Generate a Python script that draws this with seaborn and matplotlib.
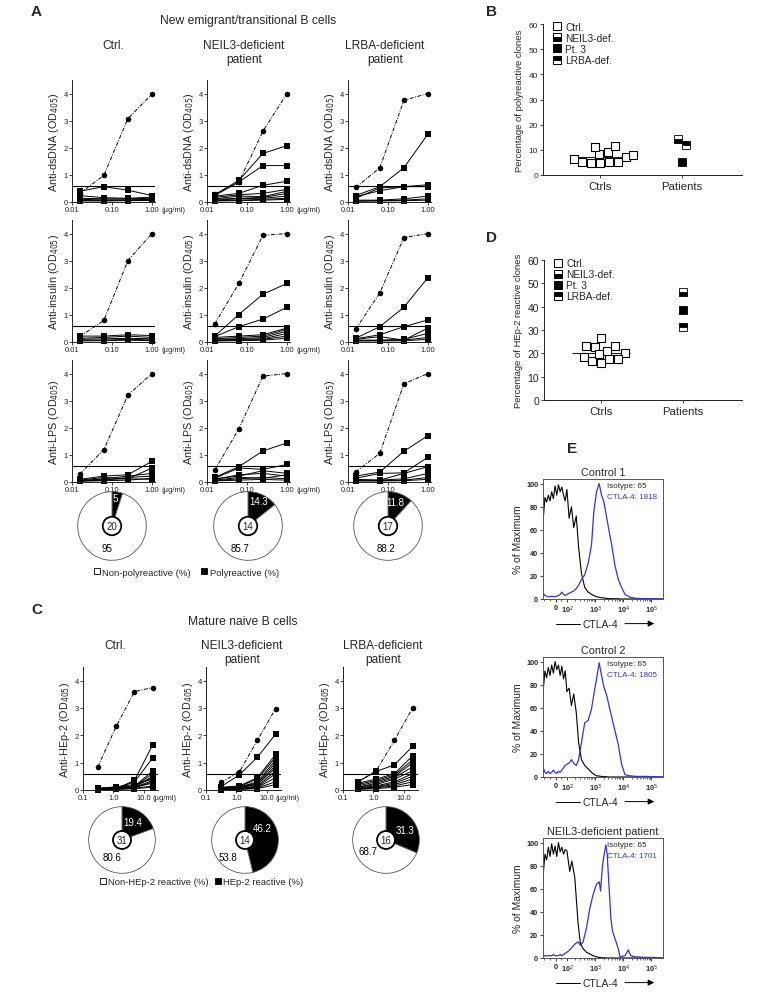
import numpy as np
import pandas as pd
import matplotlib
matplotlib.use("Agg")
import matplotlib.pyplot as plt
import seaborn as sns
from matplotlib.lines import Line2D
from matplotlib.patches import Circle
from matplotlib.ticker import NullLocator, FixedLocator

sns.set_theme(style="ticks")
plt.rcParams["font.family"] = ["Liberation Sans", "DejaVu Sans"]
plt.rcParams["axes.linewidth"] = 0.7
plt.rcParams["axes.edgecolor"] = "#222222"

# ---------------- data ----------------
groups = ["Ctrl.", "NEIL3-deficient\npatient", "LRBA-deficient\npatient"]
conc_a = [0.0156, 0.0625, 0.25, 1.0]      # ug/ml
conc_c = [0.31, 1.25, 5.0, 20.0]          # ug/ml
cutoff_a = 0.56
cutoff_c = 0.58

dsdna_pos = [[0.3, 0.97, 3.07, 3.98], [0.28, 0.72, 2.6, 4.0], [0.52, 1.25, 3.75, 4.0]]
dsdna_clones = [
    [[0.38, 0.55, 0.42, 0.22], [0.22, 0.14, 0.12, 0.16], [0.12, 0.1, 0.1, 0.12],
     [0.08, 0.06, 0.06, 0.08], [0.04, 0.04, 0.05, 0.06], [0.02, 0.02, 0.03, 0.04]],
    [[0.25, 0.78, 1.78, 2.07], [0.22, 0.72, 1.33, 1.33], [0.2, 0.3, 0.6, 0.75],
     [0.15, 0.25, 0.3, 0.45], [0.1, 0.2, 0.18, 0.38], [0.08, 0.12, 0.15, 0.3],
     [0.05, 0.1, 0.12, 0.2], [0.03, 0.05, 0.08, 0.12], [0.02, 0.03, 0.05, 0.08]],
    [[0.22, 0.55, 1.25, 2.5], [0.18, 0.4, 0.55, 0.62], [0.12, 0.5, 0.55, 0.55],
     [0.05, 0.05, 0.1, 0.2], [0.02, 0.03, 0.05, 0.1], [0.01, 0.02, 0.03, 0.05]],
]
insulin_pos = [[0.18, 0.78, 3.0, 4.0], [0.65, 2.15, 3.93, 4.0], [0.46, 1.8, 3.85, 4.0]]
insulin_clones = [
    [[0.2, 0.2, 0.25, 0.22], [0.12, 0.15, 0.2, 0.15], [0.08, 0.1, 0.12, 0.1],
     [0.05, 0.05, 0.08, 0.06], [0.02, 0.03, 0.05, 0.03]],
    [[0.2, 1.0, 1.75, 2.15], [0.18, 0.55, 0.83, 1.27], [0.15, 0.2, 0.25, 0.5],
     [0.1, 0.15, 0.2, 0.45], [0.08, 0.1, 0.15, 0.38], [0.05, 0.08, 0.1, 0.3],
     [0.03, 0.05, 0.08, 0.2], [0.02, 0.03, 0.05, 0.12]],
    [[0.12, 0.55, 1.27, 2.37], [0.1, 0.25, 0.55, 0.8], [0.08, 0.18, 0.05, 0.5],
     [0.05, 0.05, 0.08, 0.3], [0.03, 0.04, 0.05, 0.15], [0.02, 0.02, 0.03, 0.08]],
]
lps_pos = [[0.27, 1.18, 3.2, 4.0], [0.42, 1.95, 3.9, 4.0], [0.35, 1.05, 3.62, 4.0]]
lps_clones = [
    [[0.08, 0.2, 0.25, 0.75], [0.05, 0.15, 0.1, 0.5], [0.03, 0.1, 0.2, 0.3],
     [0.02, 0.05, 0.15, 0.2], [0.01, 0.03, 0.05, 0.12], [0.02, 0.08, 0.1, 0.08]],
    [[0.15, 0.55, 1.13, 1.43], [0.12, 0.5, 0.45, 0.63], [0.1, 0.2, 0.4, 0.3],
     [0.08, 0.25, 0.3, 0.2], [0.05, 0.15, 0.12, 0.25], [0.03, 0.1, 0.15, 0.1],
     [0.02, 0.05, 0.08, 0.05]],
    [[0.2, 0.35, 1.12, 1.7], [0.12, 0.3, 0.32, 0.9], [0.08, 0.05, 0.3, 0.55],
     [0.05, 0.05, 0.1, 0.3], [0.03, 0.03, 0.05, 0.15], [0.02, 0.02, 0.03, 0.08]],
]
hep2_pos = [[0.85, 2.33, 3.6, 3.75], [0.28, 0.65, 1.82, 2.98], [0.3, 0.7, 1.82, 3.0]]
hep2_clones = [
    [[0.08, 0.05, 0.35, 1.65], [0.07, 0.06, 0.3, 1.17], [0.06, 0.05, 0.13, 0.7],
     [0.05, 0.1, 0.12, 0.6], [0.04, 0.08, 0.1, 0.5], [0.03, 0.1, 0.15, 0.45],
     [0.05, 0.12, 0.2, 0.4], [0.02, 0.05, 0.1, 0.35], [0.03, 0.07, 0.08, 0.3],
     [0.02, 0.03, 0.1, 0.25], [0.01, 0.02, 0.06, 0.15], [0.01, 0.03, 0.05, 0.1]],
    [[0.12, 0.55, 1.2, 2.05], [0.1, 0.15, 0.45, 1.3], [0.08, 0.12, 0.4, 1.2],
     [0.06, 0.1, 0.3, 1.1], [0.05, 0.12, 0.25, 1.0], [0.04, 0.08, 0.2, 0.9],
     [0.03, 0.1, 0.22, 0.8], [0.02, 0.05, 0.15, 0.7], [0.03, 0.06, 0.12, 0.6],
     [0.02, 0.04, 0.1, 0.45], [0.01, 0.03, 0.08, 0.3], [0.01, 0.02, 0.05, 0.2]],
    [[0.3, 0.68, 0.92, 1.6], [0.25, 0.4, 0.6, 1.25], [0.2, 0.35, 0.55, 1.1],
     [0.15, 0.3, 0.5, 1.0], [0.1, 0.25, 0.45, 0.85], [0.1, 0.2, 0.4, 0.7],
     [0.08, 0.15, 0.3, 0.6], [0.05, 0.12, 0.25, 0.5], [0.04, 0.1, 0.2, 0.4],
     [0.03, 0.08, 0.15, 0.3], [0.02, 0.05, 0.1, 0.2]],
]

poly_pct = [5, 14.3, 11.8]
nonpoly_pct = [95, 85.7, 88.2]
n_clones_a = [20, 14, 17]
hep2_pct = [19.4, 46.2, 31.3]
nonhep2_pct = [80.6, 53.8, 68.7]
n_clones_c = [31, 14, 16]

patient_names = ["NEIL3-def.", "Pt. 3", "LRBA-def."]
poly_ctrls = [8.3, 7.1, 5.1, 5.1, 11.2, 9.1, 4.9, 11.4, 4.9, 5.1, 6.2, 7.8]
poly_patients = [14.3, 5.0, 11.8]
hep2_ctrls = [18.4, 23.3, 17.4, 21.1, 16.0, 20.1, 26.4, 16.7, 22.9, 17.7, 23.1, 19.6]
hep2_patients = [46.2, 38.5, 31.3]

# flow histograms (% of max) on CTLA-4 channel values
ctrl_x = [-110, -95, -80, -65, -50, -35, -20, -5, 10, 25, 40, 55, 70, 85, 100,
          120, 145, 175, 215, 260, 330, 430, 570, 750, 900, 1130, 1400, 1700,
          2060, 2570, 3200, 3900, 5100, 6700, 8800, 11600, 17500, 30000, 60000,
          120000, 250000]
ctrl1_iso = [69, 88, 84, 90, 85, 93, 87, 98, 90, 99, 93, 97, 90, 85, 95, 70, 80,
             62, 72, 45, 22, 10, 6, 4, 3, 2, 1.5, 1, 1, 0.5, 0.3, 0.3, 0.2, 0.2,
             0, 0, 0, 0, 0, 0, 0]
ctrl1_ctla4 = [5, 3, 2.5, 2, 2, 2.5, 2, 2, 2.5, 3, 4, 6, 4, 3, 4, 5, 6, 7, 9, 12,
               17, 21, 31, 47, 75, 93, 100, 90, 84, 71, 58, 47, 29, 17, 10, 4,
               1.5, 0.5, 0.3, 0.2, 0]
ctrl2_iso = [75, 92, 86, 95, 88, 97, 90, 100, 93, 97, 88, 96, 85, 92, 74, 77, 62,
             72, 56, 30, 15, 10, 7, 4, 2.5, 1, 0.8, 0.5, 0.3, 0.2, 0, 0, 0, 0, 0,
             0, 0, 0, 0, 0, 0]
ctrl2_ctla4 = [8, 4, 3, 5, 3, 4, 6, 4, 3, 5, 4, 6, 8, 10, 11, 12, 15, 12, 10, 15,
               30, 47, 49, 59, 71, 85, 99, 88, 78, 71, 61, 52, 40, 28, 11, 2, 1,
               0.5, 0.5, 0.3, 0]
pt_x = [-110, -95, -80, -65, -50, -35, -20, -5, 10, 25, 40, 55, 70, 85, 100,
        126, 150, 190, 250, 300, 377, 495, 652, 851, 1130, 1410, 1570, 1850,
        2120, 2430, 2700, 3200, 3660, 4210, 5090, 6700, 7690, 11600, 15200,
        18600, 26300, 60000, 120000, 250000]
pt_iso = [72, 90, 85, 96, 88, 99, 90, 97, 88, 100, 92, 96, 90, 94, 93, 75, 84, 70,
          30, 13, 8, 5, 3.5, 2, 1, 0.5, 0.3, 0.2, 0.2, 0.1, 0, 0, 0, 0, 0, 0, 0,
          0, 0, 0, 0, 0, 0, 0]
pt_ctla4 = [1, 2, 2, 2, 2, 2, 3, 2, 2, 2, 3, 2, 3, 4, 5, 7, 9, 12, 14, 11, 14, 26,
            43, 55, 64, 66, 58, 81, 90, 98, 90, 58, 34, 23, 17, 8, 1, 2, 7, 2, 1,
            0.5, 0.5, 0]

# ---------------- figure ----------------
W, H = 764, 1004
fig = plt.figure(figsize=(W / 100, H / 100), dpi=100)


def px_axes(l, t, w, h):
    return fig.add_axes([l / W, 1 - (t + h) / H, w / W, h / H])


def ftext(x, y, s, **kw):
    fig.text(x / W, 1 - y / H, s, **kw)


def dilution(ax, conc, pos, clones, cutoff, xlim, xticks, xlabels, unit_x, ylabel):
    for c in clones:
        sns.lineplot(x=conc, y=c, ax=ax, color="black", lw=0.7, marker="s",
                     markersize=4.2, markeredgewidth=0, clip_on=False)
    sns.lineplot(x=conc, y=pos, ax=ax, color="black", lw=0.7,
                 linestyle=(0, (4, 1.5, 1, 1.5)), marker="o", markersize=4,
                 markeredgewidth=0, clip_on=False)
    ax.axhline(cutoff, color="black", lw=0.8)
    ax.set_xscale("log")
    ax.set_xlim(*xlim)
    ax.set_ylim(0, 4.5)
    ax.set_xticks(xticks)
    ax.set_xticklabels(xlabels)
    ax.xaxis.set_minor_locator(NullLocator())
    ax.set_yticks([0, 1, 2, 3, 4])
    ax.tick_params(labelsize=5.5, length=2, width=0.6, pad=1, colors="#222222")
    ax.set_xlabel("")
    ax.set_ylabel(ylabel, fontsize=7.8, labelpad=2)
    ax.text(unit_x, -0.035, "(µg/ml)", transform=ax.get_xaxis_transform(),
            ha="left", va="top", fontsize=5.5)
    sns.despine(ax=ax)


def donut(ax, pos_pct, neg_pct, n, pos_xy, neg_xy):
    ax.pie([pos_pct, neg_pct], colors=["black", "white"], startangle=90,
           counterclock=False, radius=1,
           wedgeprops=dict(edgecolor="#555555", linewidth=0.6))
    ax.add_patch(Circle((0, 0), 0.27, facecolor="white", edgecolor="black",
                        lw=1.3, zorder=3))
    ax.text(0, 0, str(n), ha="center", va="center", fontsize=7, zorder=4)
    ax.text(pos_xy[0], pos_xy[1], f"{pos_pct:g}", color="white", ha="center",
            va="center", fontsize=7)
    ax.text(neg_xy[0], neg_xy[1], f"{neg_pct:g}", color="black", ha="center",
            va="center", fontsize=7)
    ax.set_xlim(-1.02, 1.02)
    ax.set_ylim(-1.02, 1.02)


# ---- panel A ----
ftext(36, 12, "A", fontsize=11, fontweight="bold", ha="center", va="center")
ftext(248, 21, "New emigrant/transitional B cells", fontsize=8.7, ha="center", va="center")
a_left = [72, 207, 348]
a_top = [81, 221, 361]
a_title_x = [113, 244, 385]
a_assays = [(dsdna_pos, dsdna_clones, "Anti-dsDNA (OD$_{405}$)"),
            (insulin_pos, insulin_clones, "Anti-insulin (OD$_{405}$)"),
            (lps_pos, lps_clones, "Anti-LPS (OD$_{405}$)")]
for j in range(3):
    ftext(a_title_x[j], 40, groups[j], fontsize=8.6, ha="center", va="top",
          linespacing=1.2)
    for i, (pos, clones, lab) in enumerate(a_assays):
        ax = px_axes(a_left[j], a_top[i], 83, 121.5)
        dilution(ax, conc_a, pos[j], clones[j], cutoff_a, (0.01, 1.19),
                 [0.01, 0.1, 1.0], ["0.01", "0.10", "1.00"], 1.7, lab)
        if j == 2:
            ax.texts[-1].set_visible(False)

a_pie_x = [112, 248, 388]
a_pos_xy = [(0.1, 0.82), (0.3, 0.72), (0.22, 0.7)]
a_neg_xy = [(-0.14, -0.65), (-0.23, -0.65), (-0.05, -0.65)]
for j in range(3):
    ax = px_axes(a_pie_x[j] - 35, 527 - 35, 70, 70)
    donut(ax, poly_pct[j], nonpoly_pct[j], n_clones_a[j], a_pos_xy[j], a_neg_xy[j])

sq_white = Line2D([], [], marker="s", ls="", mfc="white", mec="black", ms=5, mew=0.6)
sq_black = Line2D([], [], marker="s", ls="", mfc="black", mec="black", ms=5, mew=0.6)
fig.legend([sq_white, sq_black], ["Non-polyreactive (%)", "Polyreactive (%)"],
           loc="center", bbox_to_anchor=(186 / W, 1 - 573 / H), ncol=2,
           fontsize=6.8, frameon=False, handletextpad=0.2, columnspacing=1.0,
           handlelength=0.8)

# ---- panel C ----
ftext(37, 610, "C", fontsize=11, fontweight="bold", ha="center", va="center")
ftext(243, 622, "Mature naive B cells", fontsize=8.7, ha="center", va="center")
c_left = [83, 206, 343]
c_title_x = [115, 242, 383]
for j in range(3):
    ftext(c_title_x[j], 640, groups[j], fontsize=8.6, ha="center", va="top",
          linespacing=1.2)
    ax = px_axes(c_left[j], 668, 75, 123)
    dilution(ax, conc_c, hep2_pos[j], hep2_clones[j], cutoff_c, (0.1, 30),
             [0.1, 1.0, 10.0], ["0.1", "1.0", "10.0"], 20, "Anti-HEp-2 (OD$_{405}$)")
    if j == 2:
        ax.texts[-1].set_visible(False)

c_pie_x = [122, 245, 386]
c_pos_xy = [(0.32, 0.55), (0.53, 0.35), (0.56, 0.29)]
c_neg_xy = [(-0.29, -0.5), (-0.5, -0.5), (-0.53, -0.32)]
for j in range(3):
    ax = px_axes(c_pie_x[j] - 34, 841 - 34, 68, 68)
    donut(ax, hep2_pct[j], nonhep2_pct[j], n_clones_c[j], c_pos_xy[j], c_neg_xy[j])
fig.legend([sq_white, sq_black], ["Non-HEp-2 reactive (%)", "HEp-2 reactive (%)"],
           loc="center", bbox_to_anchor=(201 / W, 1 - 883 / H), ncol=2,
           fontsize=6.8, frameon=False, handletextpad=0.1, columnspacing=0.6,
           handlelength=0.8)

# ---- panels B and D ----
pt_styles = [dict(fillstyle="bottom"), dict(fillstyle="full"), dict(fillstyle="top")]


def clone_scatter(ax, ctrls, patients, ylabel, offsets, tick_fs):
    df = pd.DataFrame({"grp": ["Ctrls"] * len(ctrls), "val": ctrls})
    sns.swarmplot(data=df, x="grp", y="val", order=["Ctrls", "Patients"],
                  marker="s", size=5.4, color="white", edgecolor="black",
                  linewidth=0.8, ax=ax, clip_on=False, zorder=3)
    ax.hlines(np.mean(ctrls), -0.36, 0.36, color="#222222", lw=0.8, zorder=2)
    for val, st, off in zip(patients, pt_styles, offsets):
        ax.plot(1 + off, val, marker="s", ms=5.4, mfc="black", mfcalt="white",
                mec="black", mew=0.6, ls="", clip_on=False, **st)
    ax.set_xlim(-0.7, 1.73)
    ax.set_ylim(0, 60)
    ax.set_yticks(range(0, 61, 10))
    ax.set_xlabel("")
    ax.set_ylabel(ylabel, fontsize=6.8, labelpad=3)
    ax.tick_params(axis="y", labelsize=tick_fs, length=2.5, width=0.6, pad=1)
    ax.tick_params(axis="x", labelsize=8.2, length=2.5, width=0.6, pad=2)
    handles = [Line2D([], [], marker="s", ls="", ms=6, mfc="black", mfcalt="white",
                      mec="black", mew=0.7, fillstyle=f)
               for f in ["none", "bottom", "full", "top"]]
    handles[0].set_markerfacecolor("white")
    handles[0].set_fillstyle("full")
    ax.legend(handles, ["Ctrl."] + patient_names, loc="upper left",
              bbox_to_anchor=(0.03, 1.04), frameon=False, fontsize=7.3,
              handlelength=0.8, handletextpad=0.4, labelspacing=0.1,
              borderaxespad=0)
    sns.despine(ax=ax)


ftext(492, 12, "B", fontsize=11, fontweight="bold", ha="center", va="center")
axb = px_axes(543, 25, 199, 151)
clone_scatter(axb, poly_ctrls, poly_patients, "Percentage of polyreactive clones",
              [-0.05, 0.0, 0.05], 6)

ftext(492, 238, "D", fontsize=11, fontweight="bold", ha="center", va="center")
axd = px_axes(544, 261, 198, 140)
clone_scatter(axd, hep2_ctrls, hep2_patients, "Percentage of HEp-2 reactive clones",
              [0.0, 0.0, 0.0], 7.5)

# ---- panel E ----
ftext(572, 449, "E", fontsize=11, fontweight="bold", ha="center", va="center")
e_top = [480, 658, 839]
e_data = [("Control 1", ctrl_x, ctrl1_iso, ctrl1_ctla4, 65, 1818),
          ("Control 2", ctrl_x, ctrl2_iso, ctrl2_ctla4, 65, 1805),
          ("NEIL3-deficient patient", pt_x, pt_iso, pt_ctla4, 65, 1701)]
blue = "#3535c8"
for top, (title, x, iso, ctla, iso_mfi, ctla_mfi) in zip(e_top, e_data):
    ax = px_axes(543, top, 120, 120)
    sns.lineplot(x=x, y=iso, ax=ax, color="black", lw=0.8)
    sns.lineplot(x=x, y=ctla, ax=ax, color=blue, lw=0.9)
    ax.set_xscale("symlog", linthresh=100, linscale=0.36)
    ax.set_xlim(-112, 2.6e5)
    ax.set_ylim(0, 104)
    ax.set_xticks([0, 1e2, 1e3, 1e4, 1e5])
    ax.set_xticklabels(["0", "10$^2$", "10$^3$", "10$^4$", "10$^5$"])
    minors = [-100, -50, 50] + [k * 10 ** e for e in (2, 3, 4) for k in range(2, 10)]
    ax.xaxis.set_minor_locator(FixedLocator(minors))
    ax.set_yticks([0, 20, 40, 60, 80, 100])
    ax.tick_params(labelsize=5.2, length=2.5, width=0.6, pad=1)
    ax.tick_params(which="minor", length=1.5, width=0.5)
    for lab in ax.get_xticklabels() + ax.get_yticklabels():
        lab.set_fontweight("bold")
    for sp in ax.spines.values():
        sp.set_color("#555555")
        sp.set_linewidth(0.7)
    ax.set_xlabel("")
    ax.set_ylabel("% of Maximum", fontsize=7.5, labelpad=2)
    ax.set_title(title, fontsize=7.8, pad=3)
    ax.text(0.53, 0.975, f"Isotype: {iso_mfi}", transform=ax.transAxes,
            fontsize=5.8, va="top")
    ax.text(0.53, 0.885, f"CTLA-4: {ctla_mfi}", transform=ax.transAxes,
            fontsize=5.8, va="top", color=blue)
    ax.text(0.48, -0.205, "CTLA-4", transform=ax.transAxes, fontsize=7.5,
            ha="center", va="center")
    ax.plot([0.11, 0.31], [-0.205, -0.205], transform=ax.transAxes,
            color="black", lw=0.7, clip_on=False)
    ax.annotate("", xy=(0.95, -0.205), xytext=(0.66, -0.205),
                xycoords="axes fraction",
                arrowprops=dict(arrowstyle="-|>", color="black", lw=0.7,
                                mutation_scale=9))

fig.savefig("out.png", dpi=100)
